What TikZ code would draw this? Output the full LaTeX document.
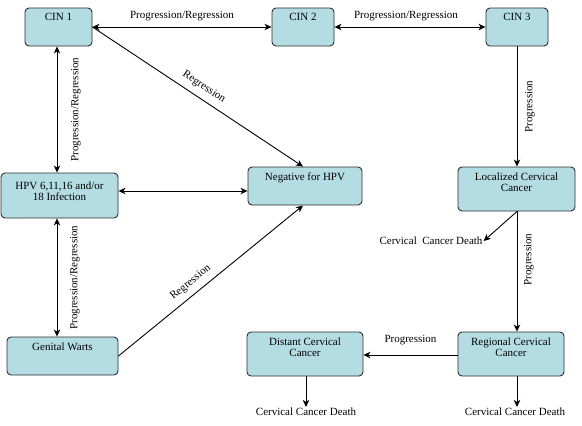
\documentclass[tikz,border=0pt]{standalone}
\usepackage{fontspec}
\setmainfont{Liberation Serif}
\usetikzlibrary{arrows.meta}
\definecolor{boxfill}{RGB}{180,221,227}
\definecolor{boxline}{RGB}{45,45,45}
\tikzset{
  stage/.style={draw=boxline, fill=boxfill, rounded corners=4pt, line width=0.9pt, inner sep=0pt},
  conn/.style={line width=0.9pt, -{Stealth[length=7pt,width=6.5pt,inset=2pt]}},
  biconn/.style={line width=0.9pt, {Stealth[length=7pt,width=6.5pt,inset=2pt]}-{Stealth[length=7pt,width=6.5pt,inset=2pt]}},
  lbl/.style={font=\fontsize{11}{12}\selectfont, inner sep=1pt},
  boxtxt/.style={font=\fontsize{11}{11.5}\selectfont, align=center, anchor=north, inner sep=0pt}
}
\begin{document}
\begin{tikzpicture}[x=1pt,y=-1pt]
\useasboundingbox (0,0) rectangle (582,426);
% boxes
\node[stage, minimum width=67pt, minimum height=38pt] (cin1) at (58.5,27) {};
\node[boxtxt] (cin1t) at (58.5,13.5) {CIN 1};
\node[stage, minimum width=62pt, minimum height=38pt] (cin2) at (303,27) {};
\node[boxtxt] (cin2t) at (303,13.5) {CIN 2};
\node[stage, minimum width=62pt, minimum height=38pt] (cin3) at (517,27) {};
\node[boxtxt] (cin3t) at (517,13.5) {CIN 3};
\node[stage, minimum width=117pt, minimum height=45pt] (hpv) at (59.5,195.5) {};
\node[boxtxt] (hpvt) at (59.5,181.5) {HPV 6,11,16 and/or\\18 Infection};
\node[stage, minimum width=114pt, minimum height=38pt] (neg) at (305,186) {};
\node[boxtxt] (negt) at (305,172.5) {Negative for HPV};
\node[stage, minimum width=111pt, minimum height=38pt] (gw) at (62.5,356) {};
\node[boxtxt] (gwt) at (62.5,342.5) {Genital Warts};
\node[stage, minimum width=117pt, minimum height=44pt] (loc) at (516.5,189) {};
\node[boxtxt] (loct) at (516.5,172.5) {Localized Cervical\\Cancer};
\node[stage, minimum width=106pt, minimum height=44pt] (reg) at (511,354) {};
\node[boxtxt] (regt) at (511,337.5) {Regional Cervical\\Cancer};
\node[stage, minimum width=116pt, minimum height=44pt] (dist) at (305,354) {};
\node[boxtxt] (distt) at (305,337.5) {Distant Cervical\\Cancer};
% death texts
\node[lbl] (death1) at (431,241) {Cervical\ \ Cancer Death};
\node[lbl] (death2) at (306,412) {Cervical Cancer Death};
\node[lbl] (death3) at (515,412) {Cervical Cancer Death};
% connectors
\draw[biconn] (cin1.east) -- (cin2.west) node[lbl, midway, yshift=11pt] {Progression/Regression};
\draw[biconn] (cin2.east) -- (cin3.west) node[lbl, midway, yshift=11pt, xshift=-4pt] {Progression/Regression};
\draw[biconn] ([xshift=-1.5pt]cin1.south) -- ([xshift=-1.5pt]cin1.south |- hpv.north)
  node[lbl, midway, xshift=19pt, rotate=90] {Progression/Regression};
\draw[biconn] ([xshift=-2.5pt]hpv.south) -- ([xshift=-2.5pt]hpv.south |- gw.north)
  node[lbl, midway, xshift=18pt, rotate=90] {Progression/Regression};
\draw[conn] (cin1.east) -- ([xshift=-2pt]neg.north)
  node[lbl, midway, sloped, above=5pt] {Regression};
\draw[biconn] ([yshift=4.5pt]hpv.east) -- ([yshift=4.5pt]hpv.east -| neg.west);
\draw[conn] (gw.east) -- ([xshift=-2pt]neg.south)
  node[lbl, pos=0.43, sloped, above=5pt] {Regression};
\draw[conn] (cin3.south) -- (cin3.south |- loc.north)
  node[lbl, midway, xshift=13pt, rotate=90] {Progression};
\draw[conn] ([xshift=0.5pt]loc.south) -- (death1.east);
\draw[conn] ([xshift=0.5pt]loc.south) -- ([xshift=0.5pt]loc.south |- reg.north)
  node[lbl, pos=0.4, xshift=12pt, rotate=90] {Progression};
\draw[conn] ([yshift=-1pt]reg.west) -- ([yshift=-1pt]reg.west -| dist.east)
  node[lbl, midway, yshift=15pt] {Progression};
\draw[conn] ([xshift=1pt]dist.south) -- ([xshift=1pt]dist.south |- death2.north);
\draw[conn] ([xshift=6pt]reg.south) -- ([xshift=6pt]reg.south |- death3.north);
\end{tikzpicture}
\end{document}
